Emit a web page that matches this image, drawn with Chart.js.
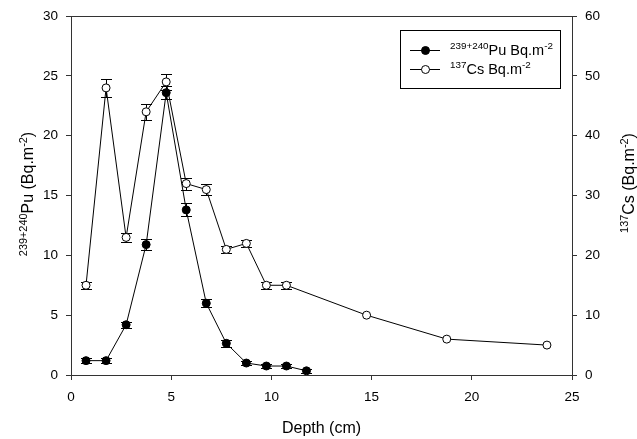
<!DOCTYPE html>
<html>
<head>
<meta charset="utf-8">
<script src="https://cdn.jsdelivr.net/npm/chart.js@4/dist/chart.umd.min.js"></script>
<style>
  body { margin: 0; background: #fff; }
  canvas { display: block; }
</style>
</head>
<body>
<canvas id="chart" width="637" height="439"></canvas>
<script>
// depth (cm) of each sample, Pu and Cs profiles
const depthPu = [0.75, 1.75, 2.75, 3.75, 4.75, 5.75, 6.75, 7.75, 8.75, 9.75, 10.75, 11.75];
const puValues = [1.2, 1.2, 4.2, 10.9, 23.6, 13.8, 6.0, 2.65, 1.0, 0.75, 0.75, 0.35];
const puErrors = [0.2, 0.2, 0.25, 0.47, 0.53, 0.55, 0.33, 0.28, 0.15, 0.15, 0.15, 0.15];

const depthCs = [0.75, 1.75, 2.75, 3.75, 4.75, 5.75, 6.75, 7.75, 8.75, 9.75, 10.75, 14.75, 18.75, 23.75];
const csValues = [15, 48, 23, 44, 49, 32, 31, 21, 22, 15, 15, 10, 6, 5];
const csErrors = [0.6, 1.45, 0.7, 1.3, 1.4, 1.0, 0.9, 0.6, 0.55, 0.55, 0.55, 0, 0, 0];

const xTicks = [0, 5, 10, 15, 20, 25];
const puTicks = [0, 5, 10, 15, 20, 25, 30];
const csTicks = [0, 10, 20, 30, 40, 50, 60];

const xTitle = [["Depth (cm)", false]];
const puTitle = [["239+240", true], ["Pu (Bq.m", false], ["-2", true], [")", false]];
const csTitle = [["137", true], ["Cs (Bq.m", false], ["-2", true], [")", false]];
const puLegend = [["239+240", true], ["Pu Bq.m", false], ["-2", true]];
const csLegend = [["137", true], ["Cs Bq.m", false], ["-2", true]];

const FONT = "'Liberation Sans', Arial, sans-serif";
const AXIS = "#333";

// text with superscripts, cap-centred on (cx, cy)
function drawRich(ctx, parts, cx, cy, angle, size, align) {
  const supSize = size * 0.68;
  ctx.save();
  ctx.translate(cx, cy);
  ctx.rotate(angle);
  ctx.fillStyle = "#000";
  ctx.textBaseline = "alphabetic";
  ctx.textAlign = "left";
  let total = 0;
  const widths = parts.map(([t, sup]) => {
    ctx.font = (sup ? supSize : size) + "px " + FONT;
    const w = ctx.measureText(t).width;
    total += w;
    return w;
  });
  let x = align === "left" ? 0 : -total / 2;
  const base = 0.358 * size;
  parts.forEach(([t, sup], i) => {
    ctx.font = (sup ? supSize : size) + "px " + FONT;
    ctx.fillText(t, x, sup ? base - 0.4 * size : base);
    x += widths[i];
  });
  ctx.restore();
}

const errorBars = {
  id: "errorBars",
  beforeDatasetsDraw(chart) {
    const ctx = chart.ctx;
    const xs = chart.scales.x;
    const sets = [
      [depthPu, puValues, puErrors, chart.scales.yPu],
      [depthCs, csValues, csErrors, chart.scales.yCs]
    ];
    ctx.save();
    ctx.strokeStyle = "#000";
    ctx.lineWidth = 1;
    sets.forEach(([xv, yv, ev, ys]) => {
      xv.forEach((d, i) => {
        if (!ev[i]) return;
        const px = Math.round(xs.getPixelForValue(d)) + 0.5;
        const top = Math.round(ys.getPixelForValue(yv[i] + ev[i])) + 0.5;
        const bot = Math.round(ys.getPixelForValue(yv[i] - ev[i])) + 0.5;
        ctx.beginPath();
        ctx.moveTo(px, top); ctx.lineTo(px, bot);
        ctx.moveTo(px - 5.5, top); ctx.lineTo(px + 5.5, top);
        ctx.moveTo(px - 5.5, bot); ctx.lineTo(px + 5.5, bot);
        ctx.stroke();
      });
    });
    ctx.restore();
  }
};

const decorations = {
  id: "decorations",
  afterDraw(chart) {
    const ctx = chart.ctx;
    const a = chart.chartArea;
    // top frame line
    ctx.save();
    ctx.strokeStyle = AXIS;
    ctx.lineWidth = 1;
    ctx.beginPath();
    ctx.moveTo(Math.round(a.left), Math.round(a.top) + 0.5);
    ctx.lineTo(Math.round(a.right) + 1, Math.round(a.top) + 0.5);
    ctx.stroke();
    ctx.restore();

    // axis titles
    drawRich(ctx, xTitle, (a.left + a.right) / 2, 427, 0, 16);
    drawRich(ctx, puTitle, 27.5, 194, -Math.PI / 2, 16);
    drawRich(ctx, csTitle, 628.5, 183, -Math.PI / 2, 16);

    // legend box
    ctx.save();
    ctx.strokeStyle = "#000";
    ctx.lineWidth = 1;
    ctx.strokeRect(400.5, 30.5, 160, 58);
    const rows = [[50, "#000", puLegend], [68.5, "#fff", csLegend]];
    rows.forEach(([y, fill, txt]) => {
      ctx.beginPath();
      ctx.moveTo(410, Math.round(y) + 0.5);
      ctx.lineTo(440, Math.round(y) + 0.5);
      ctx.stroke();
      ctx.beginPath();
      ctx.arc(425.5, Math.round(y) + 0.5, 4, 0, Math.PI * 2);
      ctx.fillStyle = fill;
      ctx.fill();
      ctx.stroke();
      drawRich(ctx, txt, 450, y, 0, 14.5, "left");
    });
    ctx.restore();
  }
};

const tickFont = { family: FONT, size: 13.5 };

function axisBase() {
  return {
    grid: { drawOnChartArea: false, drawTicks: true, tickLength: 5, tickColor: AXIS },
    border: { display: true, color: AXIS, width: 1 },
    ticks: { font: tickFont, color: "#000", padding: 8 }
  };
}

const xAxis = axisBase();
Object.assign(xAxis, {
  type: "linear", position: "bottom", min: 0, max: 25,
  afterBuildTicks: s => { s.ticks = xTicks.map(v => ({ value: v })); },
  afterFit: s => { s.height = 64; }
});
xAxis.ticks.padding = 9;
xAxis.ticks.maxRotation = 0;

const puAxis = axisBase();
Object.assign(puAxis, {
  type: "linear", position: "left", min: 0, max: 30,
  afterBuildTicks: s => { s.ticks = puTicks.map(v => ({ value: v })); },
  afterFit: s => { s.width = 71; }
});

const csAxis = axisBase();
Object.assign(csAxis, {
  type: "linear", position: "right", min: 0, max: 60,
  afterBuildTicks: s => { s.ticks = csTicks.map(v => ({ value: v })); },
  afterFit: s => { s.width = 65; }
});

new Chart(document.getElementById("chart"), {
  type: "line",
  data: {
    datasets: [
      {
        label: "239+240Pu Bq.m-2",
        data: depthPu.map((d, i) => ({ x: d, y: puValues[i] })),
        yAxisID: "yPu",
        borderColor: "#000",
        borderWidth: 1,
        pointRadius: 4,
        pointBackgroundColor: "#000",
        pointBorderColor: "#000",
        pointBorderWidth: 1,
        fill: false,
        tension: 0
      },
      {
        label: "137Cs Bq.m-2",
        data: depthCs.map((d, i) => ({ x: d, y: csValues[i] })),
        yAxisID: "yCs",
        borderColor: "#000",
        borderWidth: 1,
        pointRadius: 4,
        pointBackgroundColor: "#fff",
        pointBorderColor: "#000",
        pointBorderWidth: 1,
        fill: false,
        tension: 0
      }
    ]
  },
  options: {
    responsive: false,
    animation: false,
    devicePixelRatio: 1,
    layout: { padding: { top: 15, left: 0, right: 0, bottom: 0 } },
    plugins: { legend: { display: false }, tooltip: { enabled: false } },
    scales: { x: xAxis, yPu: puAxis, yCs: csAxis }
  },
  plugins: [errorBars, decorations]
});
</script>
</body>
</html>
